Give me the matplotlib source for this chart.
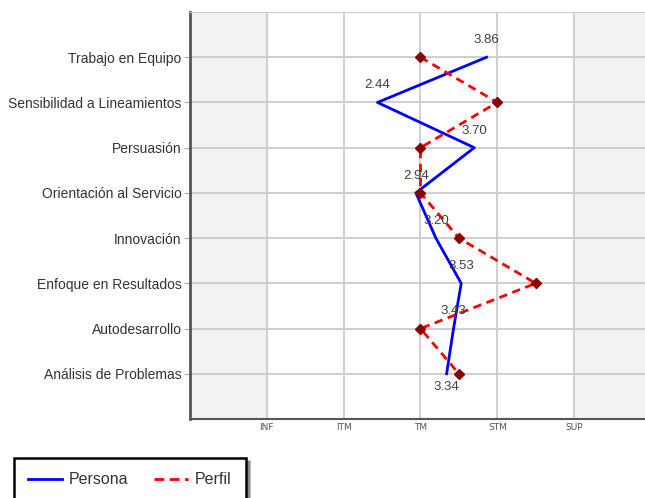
import matplotlib.pyplot as plt
from matplotlib.lines import Line2D

# datos
competencias = ["Trabajo en Equipo", "Sensibilidad a Lineamientos", "Persuasión",
                "Orientación al Servicio", "Innovación", "Enfoque en Resultados",
                "Autodesarrollo", "Análisis de Problemas"]
persona = [3.86, 2.44, 3.70, 2.94, 3.20, 3.53, 3.43, 3.34]
perfil = [3.0, 4.0, 3.0, 3.0, 3.5, 4.5, 3.0, 3.5]
niveles = ["INF", "ITM", "TM", "STM", "SUP"]

plt.rcParams["font.family"] = ["Liberation Sans", "DejaVu Sans"]

fig = plt.figure(figsize=(6.45, 4.98), dpi=100)
ax = fig.add_axes([190 / 645, 1 - 419 / 498, 1 - 190 / 645, (419 - 12) / 498])

y = list(range(1, len(competencias) + 1))

# zonas sombreadas
ax.axvspan(0, 1, color="#f2f2f2", zorder=0)
ax.axvspan(5, 6, color="#f2f2f2", zorder=0)

ax.plot(persona, y, color="#0000ff", linewidth=2, zorder=3)
ax.plot(perfil, y, color="#ff0000", linewidth=2, linestyle=(0, (3, 2)),
        marker="D", markersize=5.5, markerfacecolor="#8b0000",
        markeredgecolor="#8b0000", zorder=4)

# etiquetas de valores
for i, (v, yy) in enumerate(zip(persona, y)):
    if i == len(persona) - 1:
        ax.annotate(f"{v:.2f}", (v, yy), xytext=(0, -5), textcoords="offset points",
                    ha="center", va="top", fontsize=9.5, color="#404040", zorder=5)
    else:
        ax.annotate(f"{v:.2f}", (v, yy), xytext=(0, 8), textcoords="offset points",
                    ha="center", va="bottom", fontsize=9.5, color="#404040", zorder=5)

ax.set_xlim(0, (645 - 189) / 77)
ax.set_ylim(len(competencias) + 1, 0)
ax.set_yticks(y)
ax.set_yticklabels(competencias, fontsize=10, color="#333333")
ax.set_xticks(range(1, 6))
ax.set_xticklabels(niveles, fontsize=6.5, color="#555555", family=["DejaVu Sans"])
ax.tick_params(axis="x", length=0, pad=3)
ax.tick_params(axis="y", length=4, color="#aaaaaa", pad=2)
ax.grid(True, color="#cccccc", linewidth=1.3, zorder=1)
ax.set_axisbelow(True)

ax.spines["left"].set_color("#555555")
ax.spines["left"].set_linewidth(2)
ax.spines["bottom"].set_color("#555555")
ax.spines["bottom"].set_linewidth(1.5)
ax.spines["top"].set_color("#cccccc")
ax.spines["right"].set_visible(False)

# leyenda
handles = [Line2D([], [], color="#0000ff", linewidth=2),
           Line2D([], [], color="#ff0000", linewidth=2, linestyle=(0, (3.5, 2)))]
leg = fig.legend(handles, ["Persona", "Perfil"], loc="upper left",
                 bbox_to_anchor=(14 / 645, 1 - 458 / 498), ncol=2,
                 frameon=True, fancybox=False, shadow=True, edgecolor="black",
                 prop={"size": 11.5}, borderaxespad=0,
                 handlelength=2.1, handletextpad=0.45, columnspacing=1.6,
                 borderpad=0.9, labelcolor="#333333")
leg.get_frame().set_linewidth(1.8)

fig.savefig("out.png", dpi=100)
plt.close()
